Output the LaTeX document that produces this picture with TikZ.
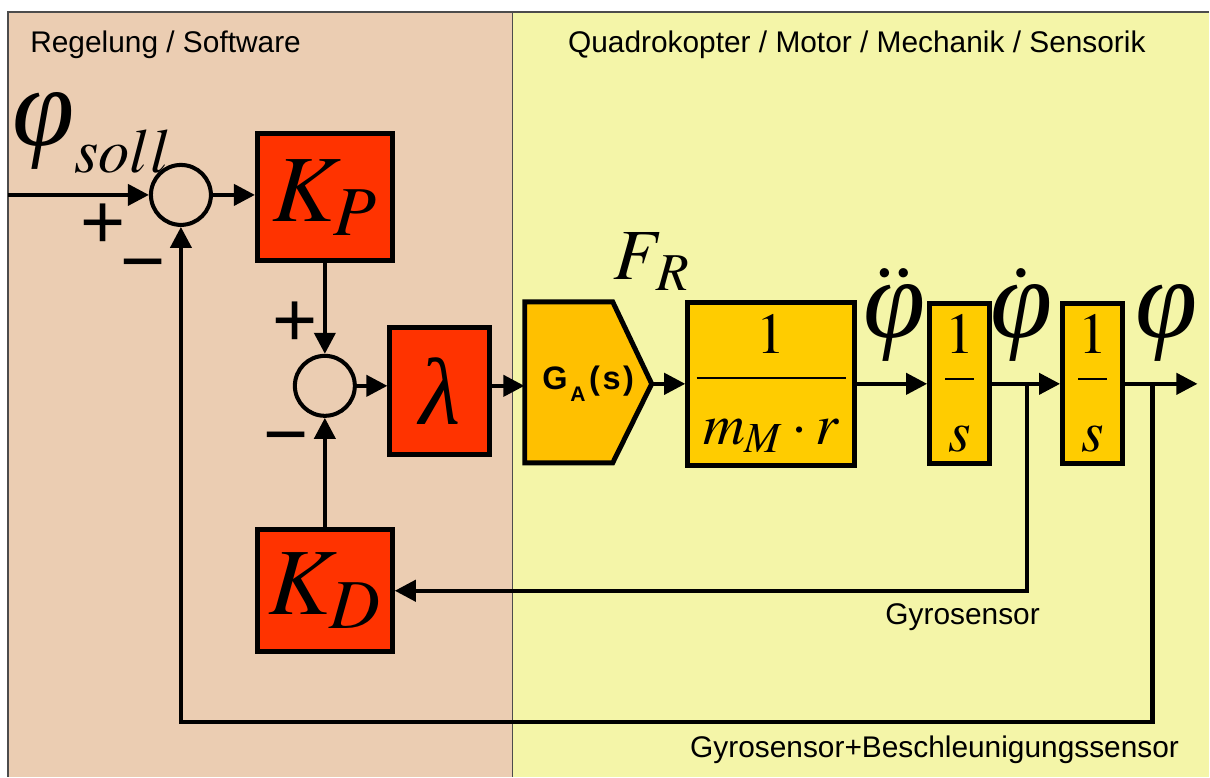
\documentclass[tikz,border=0pt]{standalone}
\usepackage{amsmath}
\usepackage{mathptmx}
\usepackage{fontspec}
\setsansfont{Liberation Sans}
\newfontfamily\greekfont{Liberation Serif}
\usepackage{xcolor}
\usepackage{tikz}
\usetikzlibrary{arrows.meta,positioning,calc}

\definecolor{softtan}{HTML}{EBCDB2}
\definecolor{softyellow}{HTML}{F4F5A8}
\definecolor{gainred}{HTML}{FF3300}
\definecolor{actorange}{HTML}{FFC000}
\definecolor{plantyellow}{HTML}{FFCC00}

% italic Greek letters as in the drawing
\newcommand{\phiit}{\text{\greekfont\itshape\fontsize{64}{64}\selectfont φ}}
\newcommand{\phihigh}{\phiit\rule{0pt}{30pt}}
\newcommand{\lamit}{\text{\greekfont\itshape λ}}

\begin{document}
\begin{tikzpicture}[x=0.02cm, y=-0.02cm,
    gain/.style={rectangle, draw=black, fill=gainred, line width=2.8pt,
                 minimum width=2.7cm, minimum height=2.54cm, inner sep=0pt,
                 font=\fontsize{54}{60}\selectfont},
    plant/.style={rectangle, draw=black, fill=plantyellow, line width=2.8pt,
                  inner sep=0pt, font=\fontsize{33}{38}\selectfont},
    sumnode/.style={circle, draw=black, line width=2.3pt, minimum size=1.2cm,
                    inner sep=0pt},
    arrow/.style={-{Triangle[length=12pt,width=12pt]}, line width=2.3pt},
    sign/.style={font=\sffamily\fontsize{44}{44}\selectfont, inner sep=0pt},
    sig/.style={font=\fontsize{54}{60}\selectfont, inner sep=0pt, anchor=base},
    area/.style={font=\sffamily\fontsize{17}{20}\selectfont, inner sep=0pt,
                 anchor=west},
    sensor/.style={font=\sffamily\fontsize{17}{20}\selectfont, inner sep=0pt}
]
    % Background areas
    \fill[white] (0,0) rectangle (1210,777);
    \fill[softtan] (8,12) rectangle (513,777);
    \fill[softyellow] (513,12) rectangle (1210,777);
    \draw[black!70, line width=0.6pt] (8,777) -- (8,12) -- (1210,12);
    \draw[black!70, line width=0.5pt] (513,12) -- (513,777);

    \node[area] (swtitle) at (30,45) {Regelung / Software};
    \node[area] (hwtitle) at (568,45) {Quadrokopter / Motor / Mechanik / Sensorik};

    % Controller
    \node[sumnode] (sumA) at (181,195) {};
    \node[gain] (KP) at (325,197.5) {$K_P$};
    \node[sumnode] (sumB) at (325,386) {};
    \node[gain, minimum width=2cm] (lam) at (440,391.5) {$\lamit$};
    \node[gain, minimum height=2.44cm] (KD) at (325,591) {$K_D$};

    % Plant
    \filldraw[fill=actorange, draw=black, line width=2.8pt]
        (525,302) -- (613,302) -- (652,384) -- (613,463) -- (525,463) -- cycle;
    \node[minimum width=2.54cm, minimum height=1cm, inner sep=0pt,
          font=\sffamily\bfseries\fontsize{18.5}{20}\selectfont]
        (GA) at (588.5,384)
        {G\kern1.5pt\raisebox{-6.5pt}{\fontsize{12}{12}\selectfont A}\kern2pt(\kern1.5pt s\kern1.5pt)};
    \node[plant, minimum width=3.34cm, minimum height=3.26cm] (mr) at (771.5,384)
        {$\dfrac{1}{\rule{0pt}{33pt}\,m_M\cdot r\,}$};
    \node[plant, minimum width=1.2cm, minimum height=3.2cm] (intA) at (960,384)
        {$\dfrac{1}{\rule{0pt}{37pt}s}$};
    \node[plant, minimum width=1.2cm, minimum height=3.2cm] (intB) at (1093,384)
        {$\dfrac{1}{\rule{0pt}{37pt}s}$};

    % Signals
    \node[sig, font=\fontsize{48}{54}\selectfont, anchor=base west] (phiset) at (12,146) {$\phiit_{soll}$};
    \node[sig, font=\fontsize{41}{46}\selectfont, anchor=base west] (force) at (613,280) {$F_{\kern4pt R}$};
    \node[sig] (phiacc) at (895,338) {$\ddot{\phihigh}$};
    \node[sig] (phirate) at (1022,338) {$\dot{\phihigh}$};
    \node[sig] (phiout) at (1167,338) {$\phiit$};

    % Signs at the summing points
    \node[sign] (plusA) at (103,226) {+};
    \node[sign] (minusA) at (143,273) {−};
    \node[sign] (plusB) at (295,324) {+};
    \node[sign] (minusB) at (286,446) {−};

    % Forward path
    \coordinate (inp) at (8,195);
    \coordinate (tapA) at (1027,384);
    \coordinate (tapB) at (1153,384);
    \coordinate (out) at (1198,384);
    \draw[arrow] (inp) -- (sumA.west);
    \draw[arrow] (sumA.east) -- (sumA.east -| KP.west);
    \draw[arrow] (KP.south) -- (sumB.north);
    \draw[arrow] (sumB.east) -- (sumB.east -| lam.west);
    \draw[arrow] (sumB.east -| lam.east) -- (sumB.east -| GA.west);
    \draw[arrow] (GA.east) -- (mr.west);
    \draw[arrow] (mr.east) -- (intA.west);
    \draw[arrow] (intA.east) -- (intB.west);
    \draw[arrow] (intB.east) -- (out);

    % Feedback
    \draw[arrow] (tapA) |- (KD.east);
    \draw[arrow] (KD.north) -- (sumB.south);
    \draw[arrow] (tapB) -- ++(0,338) -| (sumA.south);

    \node[sensor] (gyro) at (963,617) {Gyrosensor};
    \node[sensor] (gyroacc) at (935,750) {Gyrosensor+Beschleunigungssensor};
\end{tikzpicture}
\end{document}
